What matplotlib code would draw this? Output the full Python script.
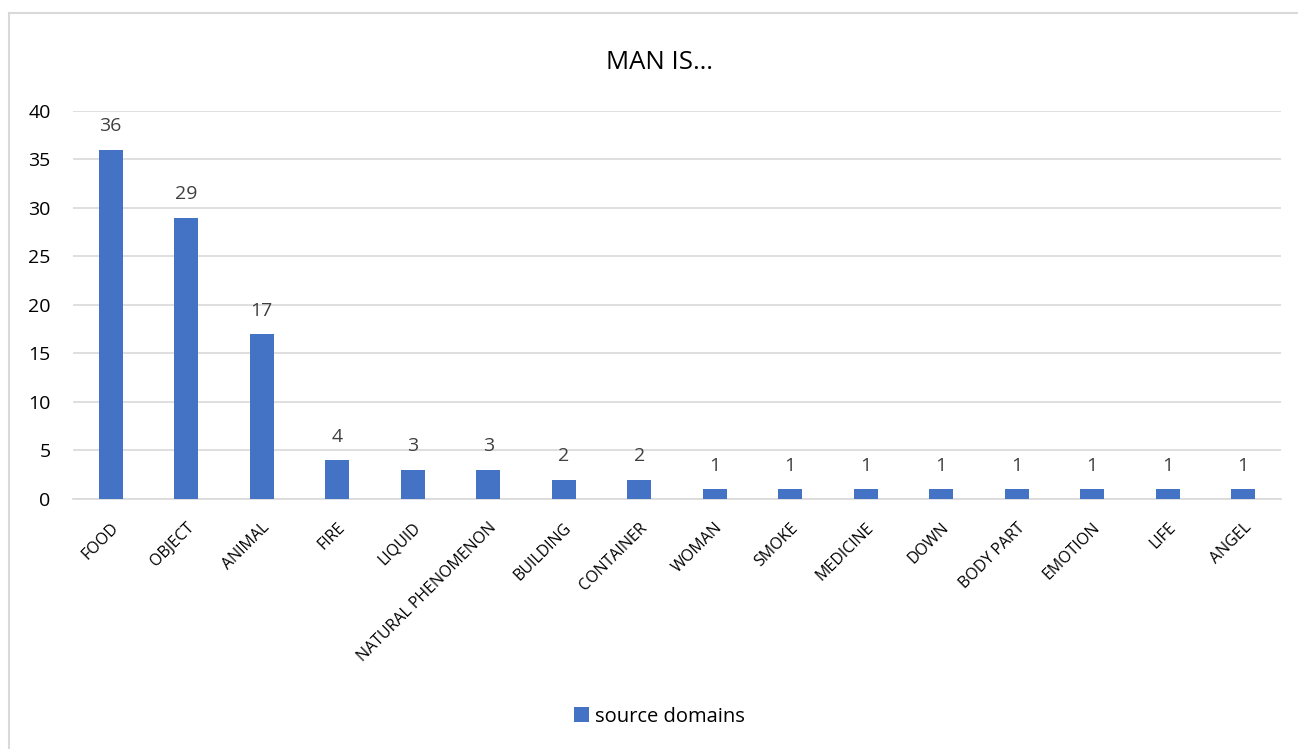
import numpy as np
import matplotlib.pyplot as plt
from matplotlib.lines import Line2D

# data
categories = ['FOOD', 'OBJECT', 'ANIMAL', 'FIRE', 'LIQUID', 'NATURAL PHENOMENON',
              'BUILDING', 'CONTAINER', 'WOMAN', 'SMOKE', 'MEDICINE', 'DOWN',
              'BODY PART', 'EMOTION', 'LIFE', 'ANGEL']
counts = [36, 29, 17, 4, 3, 3, 2, 2, 1, 1, 1, 1, 1, 1, 1, 1]
yticks = [0, 5, 10, 15, 20, 25, 30, 35, 40]

plt.rcParams['font.family'] = ['Open Sans', 'DejaVu Sans']
blue = '#4472C4'
grid_col = '#D9D9D9'

fig = plt.figure(figsize=(12.98, 7.49), dpi=100)
ax = fig.add_axes([0.0562, 0.3338, 0.9307, 0.518])

x = np.arange(len(categories))
ax.bar(x, counts, width=0.32, color=blue, zorder=3, label='source domains')
for xi, v in zip(x, counts):
    ax.text(xi, v + 1.5, str(v), ha='center', va='bottom', fontsize=14, color='#404040')

ax.set_xlim(-0.5, len(categories) - 0.5)
ax.set_ylim(0, 40)
ax.set_yticks(yticks)
ax.set_xticks(x)
ax.set_xticklabels(categories, rotation=45, ha='right', rotation_mode='anchor', fontsize=11.5)
ax.tick_params(axis='y', labelsize=14, length=0, pad=16)
ax.tick_params(axis='x', length=0, pad=15)
ax.yaxis.grid(True, color=grid_col, linewidth=1.2, zorder=0)
for s in ['top', 'right', 'left']:
    ax.spines[s].set_visible(False)
ax.spines['bottom'].set_color(grid_col)
ax.spines['bottom'].set_linewidth(1.2)

fig.text(0.508, 0.916, 'MAN IS…', ha='center', va='center', fontsize=18.5)

fig.legend(loc='center', bbox_to_anchor=(0.508, 0.043), frameon=False, fontsize=14.5,
           handlelength=0.75, handleheight=0.75, handletextpad=0.3)

# chart frame
fig.add_artist(Line2D([0.0069, 0.0069], [0, 0.982], color=grid_col, linewidth=1.5))
fig.add_artist(Line2D([0.0069, 1.0], [0.982, 0.982], color=grid_col, linewidth=1.5))

fig.savefig('out.png', dpi=100)
